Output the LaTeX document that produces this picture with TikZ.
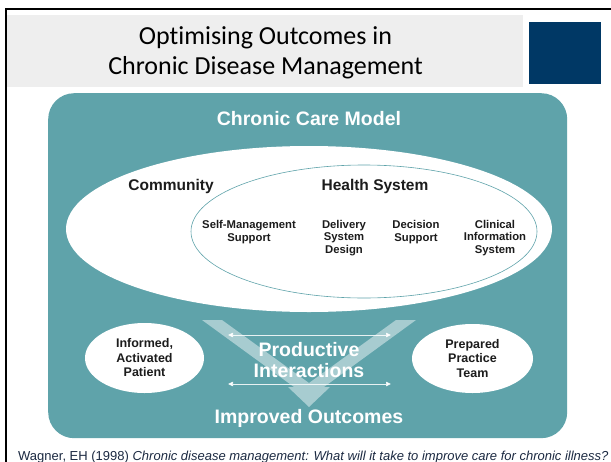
\documentclass[tikz,border=0pt]{standalone}
\usepackage{fontspec}
\setmainfont{Liberation Sans}
\newfontfamily\titlefont[Ligatures={NoCommon}]{Carlito}
\usetikzlibrary{arrows.meta,shapes.geometric}
\definecolor{tealbg}{RGB}{95,163,170}
\definecolor{navysq}{RGB}{0,56,101}
\definecolor{greybg}{RGB}{238,238,238}
\definecolor{citecol}{RGB}{28,42,66}
\definecolor{darktxt}{RGB}{28,28,28}
\tikzset{
  whiteoval/.style={ellipse, fill=white, inner sep=0pt},
  heading/.style={text=white, font=\bfseries\fontsize{19.5}{21}\selectfont, inner sep=0pt, align=center},
  region/.style={text=darktxt, font=\bfseries\fontsize{15.5}{18}\selectfont, inner sep=0pt},
  element/.style={text=darktxt, font=\bfseries\fontsize{11.3}{12.4}\selectfont, inner sep=0pt, align=center},
  actor/.style={text=darktxt, font=\bfseries\fontsize{12.5}{14.5}\selectfont, inner sep=0pt, align=center},
  interarrow/.style={draw=white, draw opacity=0.85, line width=0.7pt, {Triangle[length=5pt,width=4.5pt]}-{Triangle[length=5pt,width=4.5pt]}}
}
\begin{document}
\begin{tikzpicture}[x=1pt,y=-1pt]
\useasboundingbox (0,0) rectangle (611,461);
\clip (0,0) rectangle (611,461);
\fill[white] (0,0) rectangle (611,461);
% slide frame
\draw[line width=2.5pt, line cap=rect] (6,462) -- (6,9) -- (612,9);
% title bar
\node[fill=greybg, minimum width=516pt, minimum height=72pt, inner sep=0pt, anchor=north west] (titlebar) at (7,15) {};
\node[font=\titlefont\fontsize{26}{30}\selectfont, align=center, inner sep=0pt] (title) at (265.5,53) {Optimising Outcomes in\\Chronic Disease Management};
\node[fill=navysq, minimum width=72pt, minimum height=62pt, inner sep=0pt, anchor=north west] (logo) at (529,22) {};
% model panel
\node[fill=tealbg, rounded corners=26pt, minimum width=519pt, minimum height=345pt, inner sep=0pt, anchor=north west] (panel) at (48,93) {};
\node[heading] (ccm) at (309,119) {Chronic Care Model};
% community and health system
\node[whiteoval, minimum width=486pt, minimum height=166pt] (community) at (309,229) {};
\node[ellipse, draw=tealbg, line width=0.6pt, fill=white, minimum width=346pt, minimum height=133pt, inner sep=0pt] (healthsys) at (364,231.5) {};
\node[region] (commlabel) at (171,186) {Community};
\node[region] (hslabel) at (375,186) {Health System};
\node[element] (selfmgmt) at (249,232) {Self-Management\\Support};
\node[element] (delivery) at (344,238) {Delivery\\System\\Design};
\node[element] (decision) at (416,232) {Decision\\Support};
\node[element] (clinical) at (495,238) {Clinical\\Information\\System};
% patient and team
\node[whiteoval, minimum width=119pt, minimum height=70pt] (patient) at (144.5,358) {};
\node[actor] at (patient.center) {Informed,\\Activated\\Patient};
\node[whiteoval, minimum width=121pt, minimum height=69pt] (team) at (472.5,358.5) {};
\node[actor] at (team.center) {Prepared\\Practice\\Team};
% V arrow
\fill[white, opacity=0.45] (202,320) -- (222,320) -- (309,383) -- (396,320) -- (416,320) -- (324,387) -- (330,387) -- (309,407) -- (288,387) -- (294,387) -- cycle;
% interaction arrows
\coordinate (upL) at (228,335);
\coordinate (upR) at (391,335);
\coordinate (loL) at (228,384);
\coordinate (loR) at (391,384);
\draw[interarrow] (upL) -- (upR);
\draw[interarrow] (loL) -- (loR);
\node[heading] (productive) at (309,360) {Productive\\Interactions};
\node[heading] (outcomes) at (309,418) {Improved Outcomes};
% citation
\node[anchor=base west, inner sep=0pt, text=citecol, font=\fontsize{13}{15}\selectfont] (cite) at (18,460) {Wagner, EH (1998) \textit{Chronic disease management: What will it take to improve care for chronic illness?}};
\end{tikzpicture}
\end{document}
